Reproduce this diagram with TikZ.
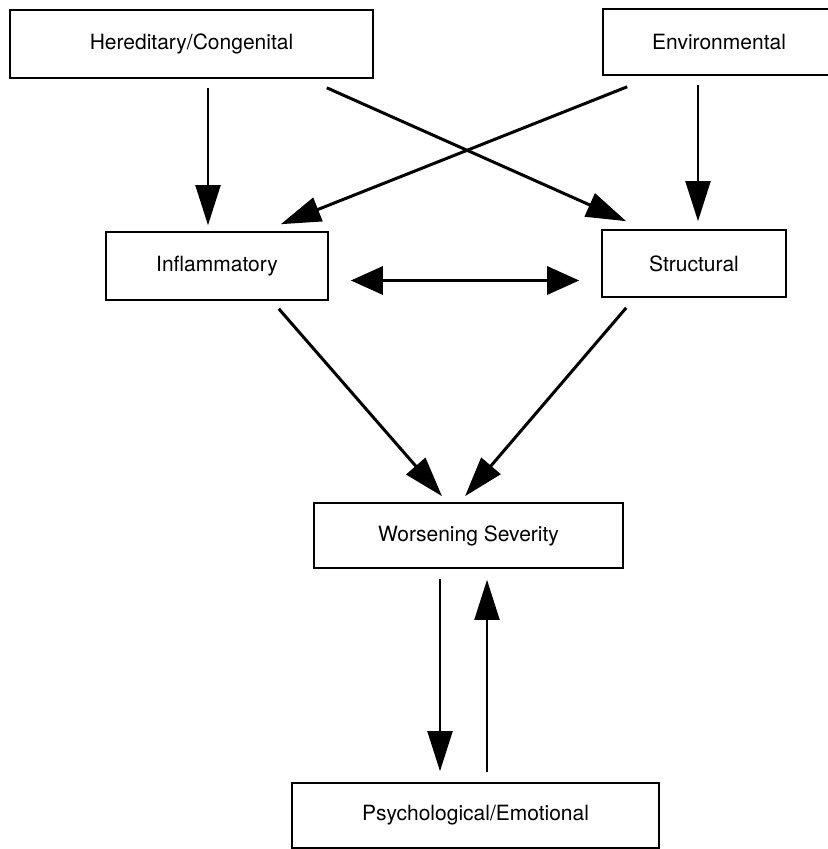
\documentclass[tikz,border=0pt]{standalone}
\usepackage{fontspec}
\setmainfont{TeX Gyre Heros}
\usetikzlibrary{arrows.meta,calc}
\tikzset{
  cbox/.style={draw=black,line width=0.8pt,align=center,font=\fontsize{10.5pt}{12pt}\selectfont,inner sep=0pt,minimum height=#1},
  cbox/.default=34pt,
  arr/.style={-{Triangle[length=20pt,width=12.5pt]},line width=1.5pt},
  varr/.style={-{Triangle[length=20pt,width=12.5pt]},line width=1pt},
  darr/.style={{Triangle[length=16pt,width=14pt]}-{Triangle[length=16pt,width=14pt]},line width=1.5pt},
}
\begin{document}
\begin{tikzpicture}[x=0.5pt,y=-0.5pt]
  \useasboundingbox (0,0) rectangle (827,849);
  % causes
  \node[cbox,minimum width=181.5pt] (hered) at (191.5,44) {Hereditary/Congenital};
  \node[cbox=33pt,minimum width=116pt] (env) at (719,42) {Environmental};
  % disease types
  \node[cbox,minimum width=111pt] (inflam) at (217,266) {Inflammatory};
  \node[cbox=33.5pt,minimum width=92pt] (struct) at (694,263.5) {Structural};
  % outcome
  \node[cbox=32.5pt,minimum width=154.5pt] (worse) at (468.5,535.5) {Worsening Severity};
  \node[cbox=32.5pt,minimum width=183.5pt] (psych) at (475.5,815.5) {Psychological/Emotional};

  \draw[varr] ($(hered.south)+(16.5,9)$) -- ($(inflam.north)+(-9,-6)$);
  \draw[arr] ($(hered.south east)+(-47,9)$) -- ($(struct.north west)+(25,-8)$);
  \draw[arr] ($(env.south west)+(25,11)$) -- ($(inflam.north east)+(-48,-7)$);
  \draw[varr] ($(env.south)+(-21,9)$) -- ($(struct.north)+(4,-8)$);
  \draw[darr] ($(inflam.east)+(22,14.5)$) -- ($(struct.west)+(-22,17)$);
  \draw[arr] ($(inflam.south east)+(-50,8)$) -- ($(worse.north)+(-26.5,-6)$);
  \draw[arr] ($(struct.south west)+(25,10)$) -- ($(worse.north)+(-3.5,-6)$);
  \draw[varr] ($(worse.south)+(-28.5,10)$) -- ($(psych.north)+(-35.5,-11)$);
  \draw[varr] ($(psych.north)+(11.5,-10)$) -- ($(worse.south)+(18.5,11)$);
\end{tikzpicture}
\end{document}
